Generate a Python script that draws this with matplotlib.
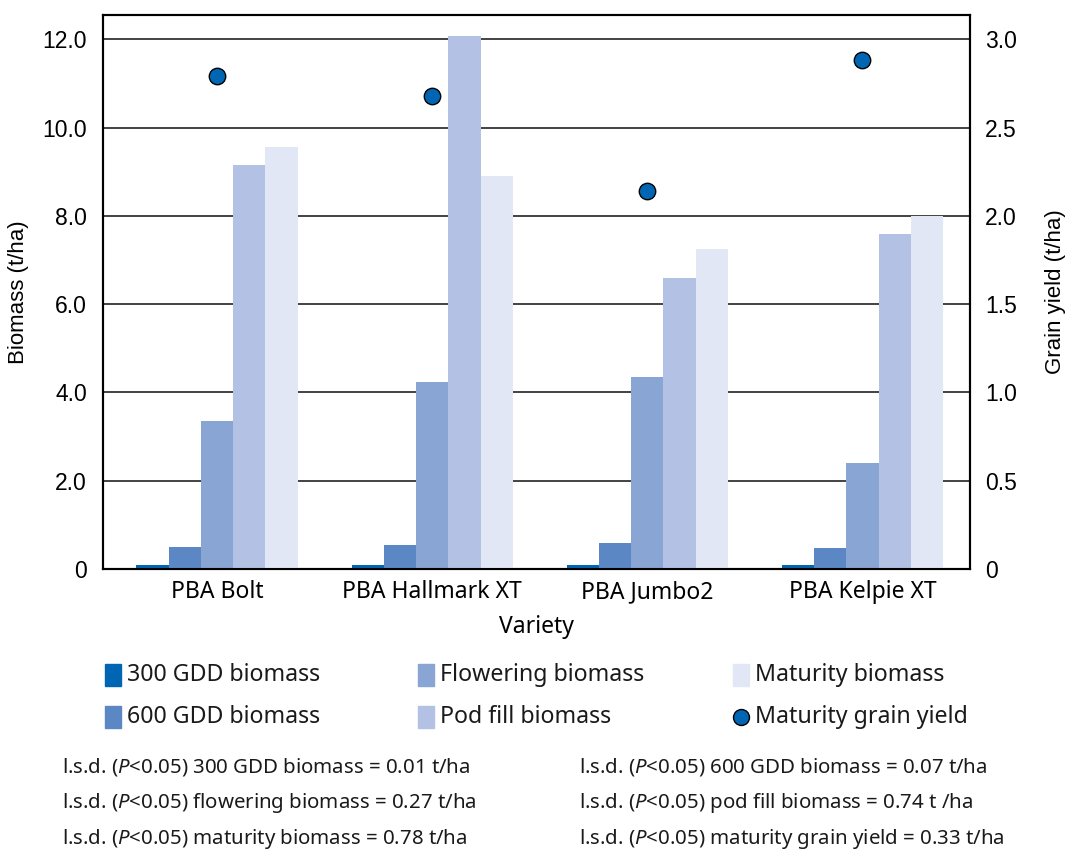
import numpy as np
import matplotlib
matplotlib.use("Agg")
import matplotlib.pyplot as plt
from matplotlib.patches import Rectangle
from matplotlib.lines import Line2D

plt.rcParams['font.family'] = ['Noto Sans', 'DejaVu Sans']
plt.rcParams['mathtext.fontset'] = 'custom'
plt.rcParams['mathtext.it'] = 'Noto Sans:italic'
plt.rcParams['mathtext.rm'] = 'Noto Sans'
plt.rcParams['text.color'] = '#1a1a1a'

varieties = ["PBA Bolt", "PBA Hallmark XT", "PBA Jumbo2", "PBA Kelpie XT"]
gdd300 = [0.10, 0.10, 0.10, 0.10]
gdd600 = [0.50, 0.55, 0.58, 0.47]
flowering = [3.35, 4.23, 4.34, 2.40]
podfill = [9.16, 12.07, 6.59, 7.58]
maturity = [9.56, 8.90, 7.25, 7.99]
grain_yield = [2.79, 2.68, 2.14, 2.88]

series_names = ["300 GDD biomass", "600 GDD biomass", "Flowering biomass",
                "Pod fill biomass", "Maturity biomass"]
colors = ["#0066b3", "#5b87c4", "#88a5d3", "#b3c2e4", "#e1e7f5"]
lsd_lines = [
    "l.s.d. ($\\it{P}$<0.05) 300 GDD biomass = 0.01 t/ha",
    "l.s.d. ($\\it{P}$<0.05) flowering biomass = 0.27 t/ha",
    "l.s.d. ($\\it{P}$<0.05) maturity biomass = 0.78 t/ha",
    "l.s.d. ($\\it{P}$<0.05) 600 GDD biomass = 0.07 t/ha",
    "l.s.d. ($\\it{P}$<0.05) pod fill biomass = 0.74 t /ha",
    "l.s.d. ($\\it{P}$<0.05) maturity grain yield = 0.33 t/ha",
]

helv = ['Liberation Sans', 'DejaVu Sans']

fig = plt.figure(figsize=(10.69, 8.51), dpi=100)
ax = fig.add_axes([0.0964, 0.3314, 0.811, 0.651])
ax2 = ax.twinx()

x = np.arange(len(varieties))
w = 0.15
data = [gdd300, gdd600, flowering, podfill, maturity]
for i, vals in enumerate(data):
    ax.bar(x + (i - 2) * w, vals, w, color=colors[i], zorder=3)

ax.set_ylim(0, 12.55)
ax2.set_ylim(0, 12.55 / 4)
ax.set_xlim(-0.53, 3.5)
ax.set_yticks(np.arange(0, 13, 2))
ax.set_yticklabels(["0"] + ["%.1f" % v for v in np.arange(2, 13, 2)],
                   family=helv, fontsize=16.5)
ax2.set_yticks(np.arange(0, 3.01, 0.5))
ax2.set_yticklabels(["0"] + ["%.1f" % v for v in np.arange(0.5, 3.01, 0.5)],
                    family=helv, fontsize=16.5)
for yv in np.arange(2, 13, 2):
    ax.axhline(yv, color="#222222", lw=1.2, zorder=1)

ax2.scatter(x, grain_yield, s=140, color="#0066b3", edgecolor="black",
            linewidth=1, zorder=5)

ax.set_xticks(x)
ax.set_xticklabels(varieties, fontsize=16.5)
ax.tick_params(axis='y', length=0, pad=11.5)
ax2.tick_params(axis='y', length=0, pad=11)
ax.tick_params(axis='x', length=0, pad=8)
for a in (ax, ax2):
    for s in a.spines.values():
        s.set_linewidth(1.5)
        s.set_color("black")

ax.set_ylabel("Biomass (t/ha)", family=helv, fontsize=16, labelpad=10)
ax2.set_ylabel("Grain yield (t/ha)", family=helv, fontsize=16, labelpad=20)
ax.set_xlabel("Variety", fontsize=16.5, labelpad=8)

# legend, laid out by hand
col_x = [105 / 1069, 418 / 1069, 733 / 1069]
row_y = [1 - 675 / 851, 1 - 717 / 851]
pw, ph = 16 / 1069, 22 / 851
for i, name in enumerate(series_names):
    cx = col_x[i // 2]
    cy = row_y[i % 2]
    fig.add_artist(Rectangle((cx, cy - ph / 2), pw, ph, color=colors[i],
                             transform=fig.transFigure))
    fig.text(cx + 22 / 1069, cy, name, fontsize=16.7, va="center")
cx, cy = col_x[2], row_y[1]
fig.add_artist(Line2D([cx + pw / 2], [cy], marker="o", markersize=11.5,
                      markerfacecolor="#0066b3", markeredgecolor="black",
                      transform=fig.transFigure))
fig.text(cx + 22 / 1069, cy, "Maturity grain yield", fontsize=16.7, va="center")

lsd_x = [62 / 1069, 579 / 1069]
lsd_y = [1 - 767 / 851, 1 - 803 / 851, 1 - 839 / 851]
for i, line in enumerate(lsd_lines):
    fig.text(lsd_x[i // 3], lsd_y[i % 3], line, fontsize=14.7, va="center")

fig.savefig("out.png", dpi=100)
